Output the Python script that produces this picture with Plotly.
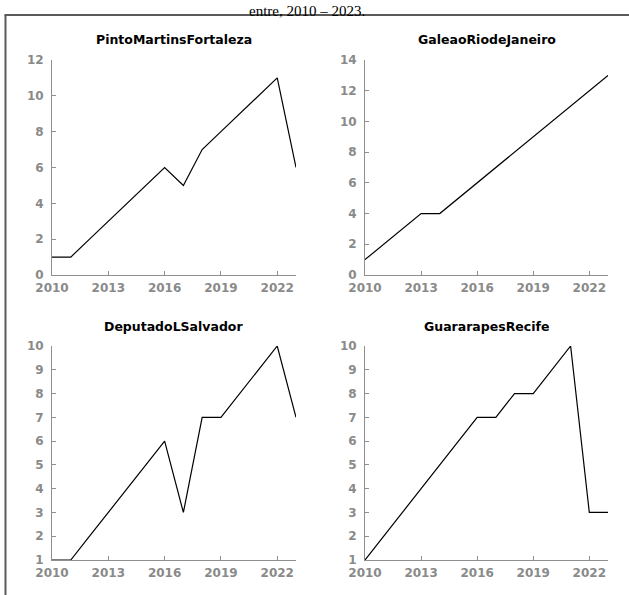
import plotly.graph_objects as go

W, H = 629, 595
years = list(range(2010, 2024))

titles = ["PintoMartinsFortaleza", "GaleaoRiodeJaneiro", "DeputadoLSalvador", "GuararapesRecife"]
pinto = [1, 1, 2, 3, 4, 5, 6, 5, 7, 8, 9, 10, 11, 6]
galeao = [1, 2, 3, 4, 4, 5, 6, 7, 8, 9, 10, 11, 12, 13]
deputado = [1, 1, 2, 3, 4, 5, 6, 3, 7, 7, 8, 9, 10, 7]
guararapes = [1, 2, 3, 4, 5, 6, 7, 7, 8, 8, 9, 10, 3, 3]
series = [pinto, galeao, deputado, guararapes]
y_ranges = [[0, 12], [0, 14], [1, 10], [1, 10]]
y_dticks = [2, 2, 1, 1]
x_ticks = [2010, 2013, 2016, 2019, 2022]

# pixel boxes (left, right, top, bottom)
boxes = [(52, 296, 60, 275), (365, 608, 60, 275), (52, 296, 346, 560), (365, 608, 346, 560)]

def px_x(v):
    return v / W

def px_y(v):
    return 1 - v / H

fig = go.Figure()
tickfont = dict(family="DejaVu Sans", size=12, color="#8a8a8a", weight="bold")
axis_col = "#8f8f8f"
for i, (vals, box) in enumerate(zip(series, boxes)):
    n = "" if i == 0 else str(i + 1)
    fig.add_trace(go.Scatter(x=years, y=vals, mode="lines",
                             line=dict(color="black", width=1.2),
                             xaxis="x" + n, yaxis="y" + n, showlegend=False))
    l, r, t, b = box
    fig.layout["xaxis" + n] = dict(
        domain=[px_x(l), px_x(r)], range=[2010, 2023], anchor="y" + n,
        tickvals=x_ticks, ticks="inside", ticklen=4, tickcolor=axis_col,
        showline=True, linecolor=axis_col, linewidth=1, showgrid=False,
        zeroline=False, tickfont=tickfont, automargin=False, fixedrange=True,
        ticklabelstandoff=2)
    fig.layout["yaxis" + n] = dict(
        domain=[px_y(b), px_y(t)], range=y_ranges[i], anchor="x" + n,
        dtick=y_dticks[i], ticks="inside", ticklen=4, tickcolor=axis_col,
        showline=True, linecolor=axis_col, linewidth=1, showgrid=False,
        zeroline=False, tickfont=tickfont, automargin=False, fixedrange=True,
        ticklabelstandoff=5)
    fig.add_annotation(x=px_x((l + r) / 2), y=px_y(t - 20), xref="paper", yref="paper",
                       text=titles[i], showarrow=False, xanchor="center", yanchor="middle",
                       font=dict(family="DejaVu Sans", size=12.5, color="black", weight="bold"))

fig.add_annotation(x=px_x(307), y=px_y(0.5), xref="paper", yref="paper",
                   text="entre, 2010 – 2023.", showarrow=False, xanchor="center", yanchor="top",
                   font=dict(family="Liberation Serif", size=15, color="black"))

frame_col = "#5a5a5a"
fig.add_shape(type="line", xref="paper", yref="paper", x0=px_x(5.5), x1=px_x(5.5),
              y0=px_y(15), y1=px_y(600), line=dict(color=frame_col, width=2))
fig.add_shape(type="line", xref="paper", yref="paper", x0=px_x(4.5), x1=px_x(640),
              y0=px_y(15), y1=px_y(15), line=dict(color=frame_col, width=2))

fig.update_layout(width=W, height=H, margin=dict(l=0, r=0, t=0, b=0),
                  paper_bgcolor="white", plot_bgcolor="white")
fig.write_html("out.html")
